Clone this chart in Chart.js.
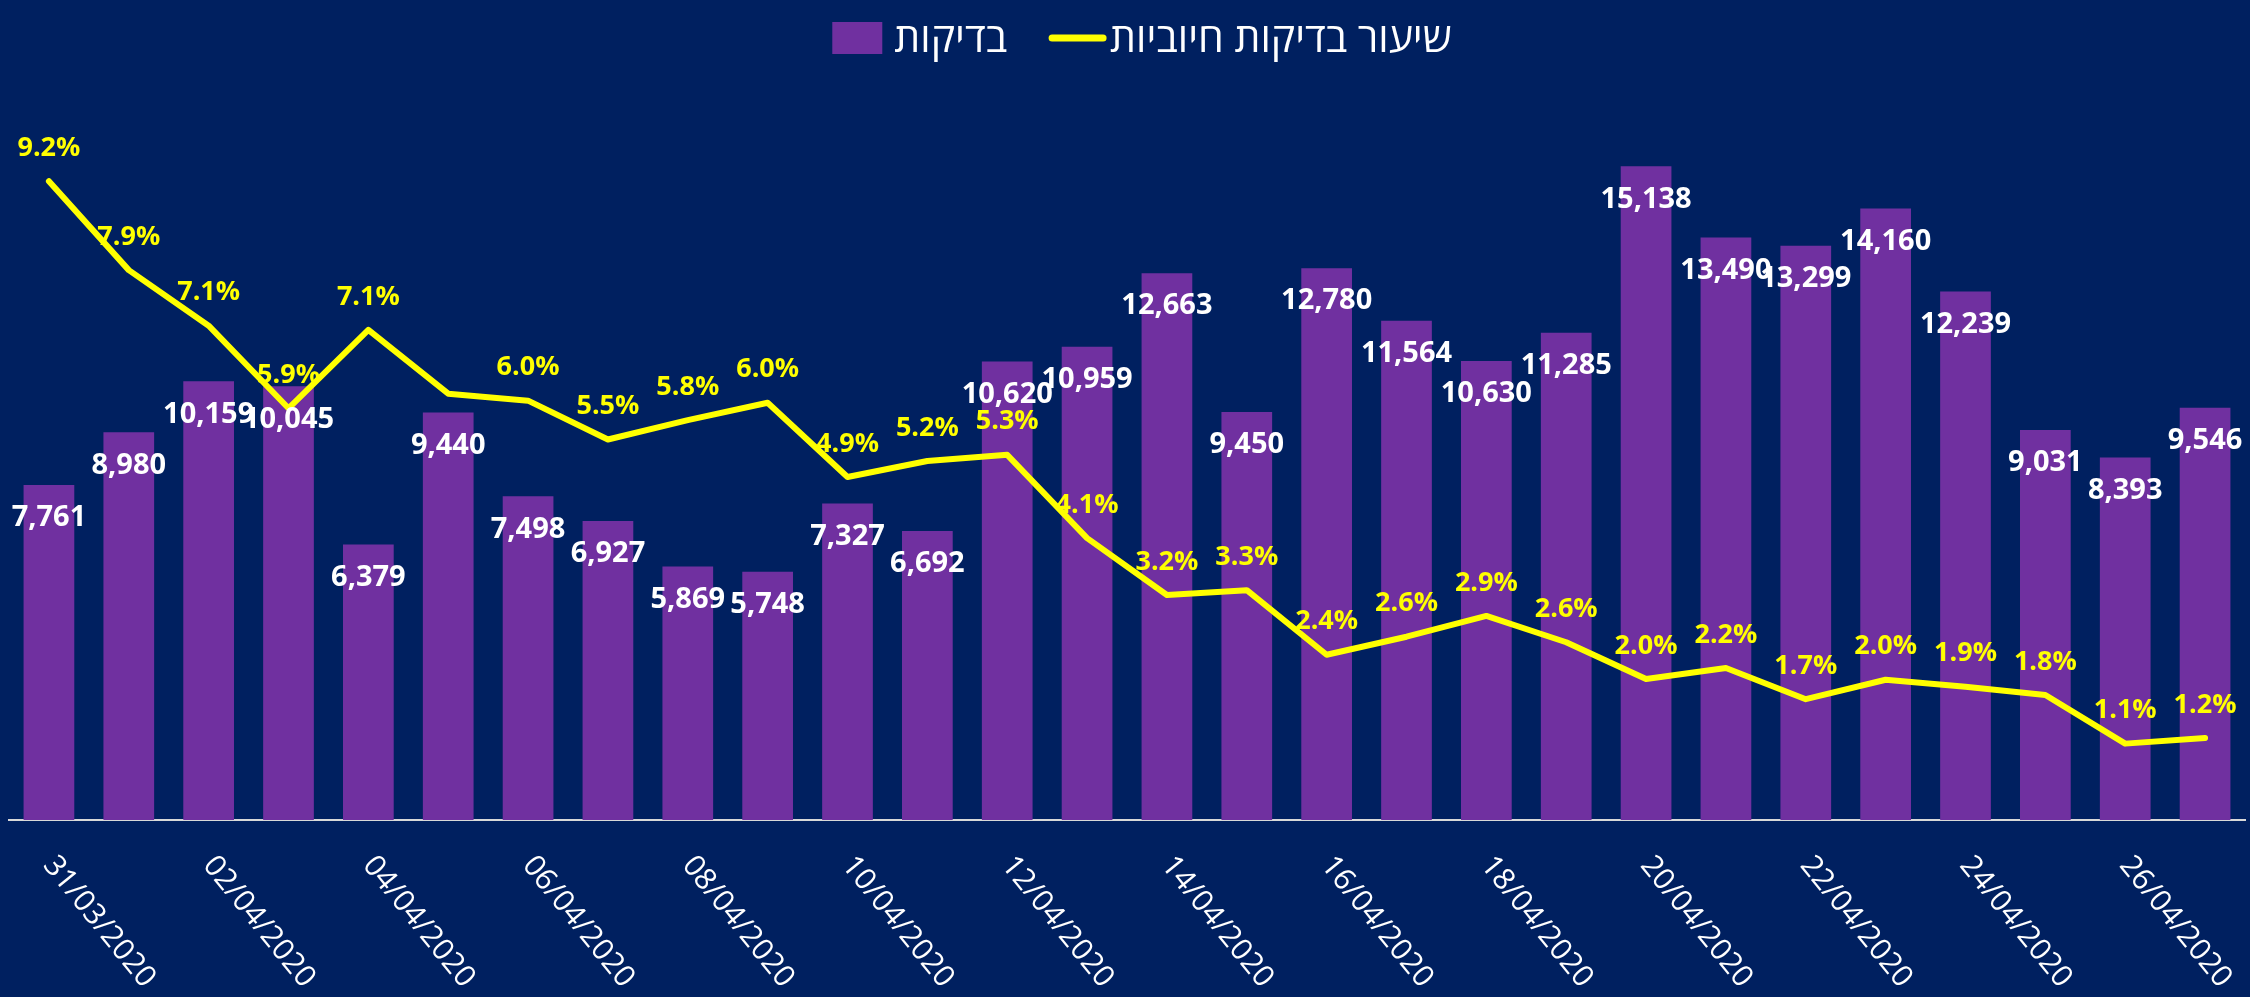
<!DOCTYPE html>
<html>
<head>
<meta charset="utf-8">
<script src="https://cdn.jsdelivr.net/npm/chart.js@4.4.1/dist/chart.umd.min.js"></script>
<style>
  html, body { margin: 0; padding: 0; background: #002060; }
  #wrap { width: 2250px; height: 997px; }
</style>
</head>
<body>
<div id="wrap"><canvas id="myChart"></canvas></div>
<script>
// dates (one bar per day)
var dates = ["31/03/2020", "01/04/2020", "02/04/2020", "03/04/2020", "04/04/2020", "05/04/2020", "06/04/2020",
    "07/04/2020", "08/04/2020", "09/04/2020", "10/04/2020", "11/04/2020", "12/04/2020", "13/04/2020",
    "14/04/2020", "15/04/2020", "16/04/2020", "17/04/2020", "18/04/2020", "19/04/2020", "20/04/2020",
    "21/04/2020", "22/04/2020", "23/04/2020", "24/04/2020", "25/04/2020", "26/04/2020", "27/04/2020"];

// number of tests
var tests = [7761, 8980, 10159, 10045, 6379, 9440, 7498, 6927, 5869, 5748, 7327, 6692, 10620, 10959,
    12663, 9450, 12780, 11564, 10630, 11285, 15138, 13490, 13299, 14160, 12239, 9031, 8393, 9546];

// positive rate (%)
var positiveRate = [9.2, 7.92, 7.12, 5.93, 7.06, 6.14, 6.04, 5.48, 5.76, 6.01, 4.94, 5.17, 5.26, 4.06,
    3.24, 3.31, 2.38, 2.64, 2.94, 2.56, 2.03, 2.19, 1.74, 2.02, 1.92, 1.8, 1.1, 1.18];

var rateLabelSkip = [5];

var testsName = "בדיקות";
var rateName = "שיעור בדיקות חיוביות";

var PURPLE = "#7030a0";
var YELLOW = "#ffff00";
var FONT = "'Open Sans', 'Liberation Sans', 'DejaVu Sans', sans-serif";

// value labels, rotated date labels and the legend
var labelPlugin = {
    id: "labels",
    afterDatasetsDraw: function (chart) {
        var ctx = chart.ctx;
        ctx.save();
        ctx.textAlign = "center";
        ctx.textBaseline = "middle";

        ctx.font = "bold 29px " + FONT;
        ctx.fillStyle = "#ffffff";
        chart.getDatasetMeta(0).data.forEach(function (bar, i) {
            ctx.fillText(tests[i].toLocaleString("en-US"), bar.x, bar.y + 33);
        });

        ctx.font = "bold 27px " + FONT;
        ctx.fillStyle = YELLOW;
        chart.getDatasetMeta(1).data.forEach(function (pt, i) {
            if (rateLabelSkip.indexOf(i) >= 0) return;
            ctx.fillText(positiveRate[i].toFixed(1) + "%", pt.x, pt.y - 33);
        });

        // date ticks, every second day
        var xs = chart.scales.x;
        ctx.font = "30px " + FONT;
        ctx.fillStyle = "#ffffff";
        ctx.textAlign = "left";
        for (var i = 0; i < dates.length; i += 2) {
            ctx.save();
            ctx.translate(xs.getPixelForTick(i), xs.top + 40);
            ctx.rotate(51 * Math.PI / 180);
            ctx.fillText(dates[i], 0, 0);
            ctx.restore();
        }

        // legend
        ctx.font = "41px " + FONT;
        ctx.textBaseline = "alphabetic";
        var w1 = ctx.measureText(testsName).width;
        var w2 = ctx.measureText(rateName).width;
        var total = 50 + 12 + w1 + 42 + 57 + 4 + w2;
        var x = chart.width / 2 - total / 2 + 17;
        ctx.fillStyle = PURPLE;
        ctx.fillRect(x, 22, 50, 32);
        x += 62;
        ctx.fillStyle = "#ffffff";
        ctx.fillText(testsName, x, 52);
        x += w1 + 42;
        ctx.strokeStyle = YELLOW;
        ctx.lineWidth = 7;
        ctx.lineCap = "round";
        ctx.beginPath();
        ctx.moveTo(x + 3, 38);
        ctx.lineTo(x + 54, 38);
        ctx.stroke();
        x += 61;
        ctx.fillText(rateName, x, 52);
        ctx.restore();
    }
};

var myChart = new Chart(document.getElementById("myChart").getContext("2d"), {
    type: "bar",
    data: {
        labels: dates,
        datasets: [{
            label: testsName,
            data: tests,
            backgroundColor: PURPLE,
            barPercentage: 0.635,
            categoryPercentage: 1,
            yAxisID: "yTests",
            order: 2
        }, {
            type: "line",
            label: rateName,
            data: positiveRate,
            borderColor: YELLOW,
            backgroundColor: YELLOW,
            borderWidth: 6,
            borderCapStyle: "round",
            borderJoinStyle: "round",
            pointRadius: 0,
            tension: 0,
            yAxisID: "yRate",
            order: 1
        }]
    },
    options: {
        responsive: true,
        maintainAspectRatio: false,
        animation: false,
        layout: { padding: { left: 9, right: 5, top: 66, bottom: 169 } },
        plugins: {
            tooltip: { enabled: false },
            legend: { display: false }
        },
        scales: {
            x: {
                z: 1,
                grid: { display: false },
                border: { display: true, color: "#d9d9d9", width: 2 },
                ticks: { display: false }
            },
            yTests: {
                display: false,
                min: 0,
                max: 17462
            },
            yRate: {
                display: false,
                min: 0,
                max: 10.86
            }
        }
    },
    plugins: [labelPlugin]
});
</script>
</body>
</html>
